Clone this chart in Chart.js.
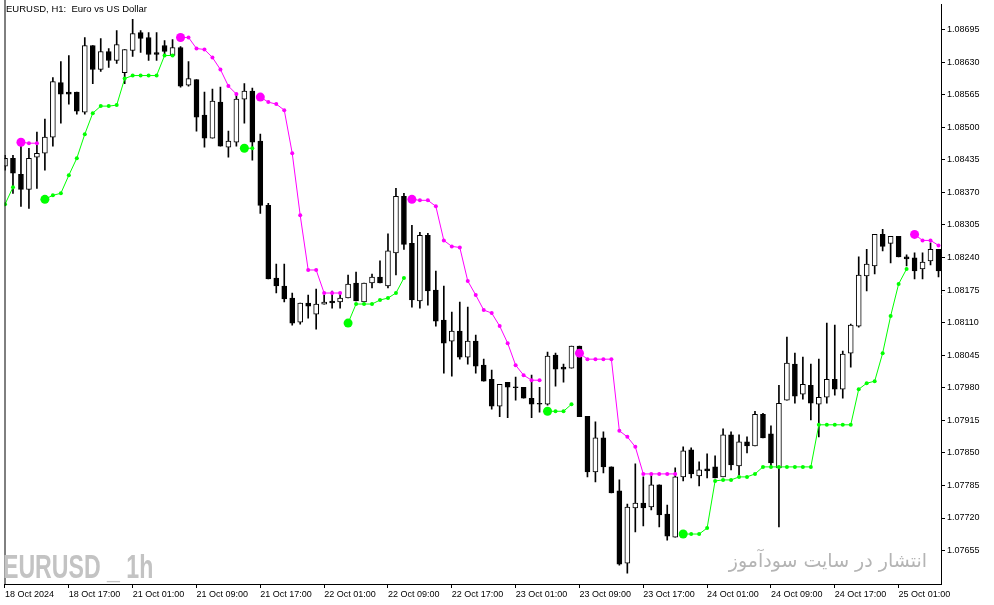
<!DOCTYPE html>
<html>
<head>
<meta charset="utf-8">
<script src="https://cdn.jsdelivr.net/npm/chart.js@4.4.1/dist/chart.umd.min.js"></script>
<style>
  html, body { margin: 0; padding: 0; background: #fff; }
  #wrap { position: relative; width: 994px; height: 605px; overflow: hidden; }
  #chart { position: absolute; left: 0; top: 0; }
  .title { position: absolute; left: 6px; top: 4px; font: 9.5px 'Liberation Sans', Arial, sans-serif; line-height: 9.5px; color: #000; white-space: pre; }
  .mark-left { position: absolute; left: 3px; top: 550px; font: bold 33.5px 'Liberation Sans', Arial, sans-serif; line-height: 33.5px; color: #c3c3c3; white-space: pre; transform: scaleX(0.69); transform-origin: 0 0; }
  .mark-right { position: absolute; right: 67px; top: 551px; font: 19px 'DejaVu Sans', sans-serif; line-height: 19px; color: #b4b4b4; white-space: pre; direction: rtl; }
</style>
</head>
<body>
<div id="wrap">
  <canvas id="chart" width="994" height="605"></canvas>
  <div class="title">EURUSD, H1:  Euro vs US Dollar</div>
  <div class="mark-left">EURUSD _ 1h</div>
  <div class="mark-right">انتشار در سایت سودآموز</div>
</div>
<script>
// H1 bars, 18 Oct 09:00 .. 25 Oct 06:00
const open = [
  1.08422, 1.08438, 1.08406, 1.08376, 1.08440, 1.08448, 1.08480, 1.08589, 1.08570, 1.08570,
  1.08530, 1.08663, 1.08615, 1.08651, 1.08633, 1.08609, 1.08653, 1.08689, 1.08679, 1.08649,
  1.08663, 1.08643, 1.08659, 1.08584, 1.08595, 1.08524, 1.08478, 1.08550, 1.08460, 1.08470,
  1.08556, 1.08572, 1.08472, 1.08344, 1.08199, 1.08183, 1.08159, 1.08111, 1.08149, 1.08127,
  1.08147, 1.08153, 1.08151, 1.08159, 1.08189, 1.08151, 1.08189, 1.08201, 1.08183, 1.08249,
  1.08362, 1.08268, 1.08153, 1.08284, 1.08175, 1.08115, 1.08073, 1.08093, 1.08041, 1.08073,
  1.08025, 1.07997, 1.07943, 1.07991, 1.07981, 1.07981, 1.07959, 1.07949, 1.07947, 1.08045,
  1.08021, 1.08019, 1.08063, 1.07923, 1.07812, 1.07880, 1.07822, 1.07774, 1.07630, 1.07740,
  1.07750, 1.07742, 1.07786, 1.07728, 1.07682, 1.07802, 1.07856, 1.07804, 1.07818, 1.07822,
  1.07802, 1.07886, 1.07824, 1.07872, 1.07864, 1.07927, 1.07888, 1.07820, 1.07955, 1.08027,
  1.07967, 1.07985, 1.07947, 1.07961, 1.07997, 1.07977, 1.08049, 1.08103, 1.08203, 1.08223,
  1.08286, 1.08268, 1.08282, 1.08241, 1.08239, 1.08217, 1.08233, 1.08256
];
const high = [
  1.08444, 1.08444, 1.08468, 1.08458, 1.08490, 1.08516, 1.08599, 1.08631, 1.08643, 1.08570,
  1.08679, 1.08663, 1.08677, 1.08657, 1.08693, 1.08655, 1.08715, 1.08693, 1.08689, 1.08689,
  1.08673, 1.08675, 1.08661, 1.08631, 1.08595, 1.08570, 1.08576, 1.08580, 1.08492, 1.08564,
  1.08587, 1.08578, 1.08486, 1.08348, 1.08227, 1.08227, 1.08169, 1.08149, 1.08165, 1.08177,
  1.08165, 1.08173, 1.08169, 1.08205, 1.08211, 1.08189, 1.08207, 1.08233, 1.08287, 1.08378,
  1.08368, 1.08304, 1.08290, 1.08288, 1.08213, 1.08183, 1.08131, 1.08151, 1.08141, 1.08085,
  1.08037, 1.08015, 1.07987, 1.07991, 1.08001, 1.07981, 1.08005, 1.07981, 1.08051, 1.08049,
  1.08027, 1.08063, 1.08063, 1.07923, 1.07912, 1.07892, 1.07822, 1.07796, 1.07748, 1.07828,
  1.07802, 1.07804, 1.07786, 1.07746, 1.07820, 1.07862, 1.07860, 1.07832, 1.07848, 1.07844,
  1.07898, 1.07892, 1.07886, 1.07882, 1.07933, 1.07929, 1.07904, 1.07985, 1.08081, 1.08049,
  1.08041, 1.08027, 1.08037, 1.08109, 1.08105, 1.08053, 1.08107, 1.08241, 1.08256, 1.08286,
  1.08296, 1.08282, 1.08282, 1.08245, 1.08249, 1.08249, 1.08269, 1.08256
];
const low = [
  1.08414, 1.08368, 1.08342, 1.08338, 1.08378, 1.08414, 1.08462, 1.08508, 1.08546, 1.08526,
  1.08526, 1.08587, 1.08611, 1.08619, 1.08627, 1.08587, 1.08641, 1.08649, 1.08633, 1.08633,
  1.08641, 1.08643, 1.08580, 1.08582, 1.08492, 1.08460, 1.08478, 1.08462, 1.08440, 1.08462,
  1.08508, 1.08434, 1.08328, 1.08197, 1.08169, 1.08151, 1.08105, 1.08107, 1.08119, 1.08097,
  1.08147, 1.08139, 1.08139, 1.08159, 1.08153, 1.08151, 1.08179, 1.08189, 1.08179, 1.08205,
  1.08256, 1.08141, 1.08139, 1.08145, 1.08103, 1.08009, 1.08003, 1.08037, 1.08027, 1.08009,
  1.07993, 1.07937, 1.07922, 1.07920, 1.07955, 1.07959, 1.07920, 1.07931, 1.07945, 1.07983,
  1.07991, 1.08019, 1.07922, 1.07802, 1.07792, 1.07810, 1.07770, 1.07626, 1.07610, 1.07692,
  1.07704, 1.07736, 1.07702, 1.07676, 1.07682, 1.07794, 1.07800, 1.07784, 1.07800, 1.07800,
  1.07802, 1.07816, 1.07806, 1.07850, 1.07864, 1.07880, 1.07824, 1.07702, 1.07955, 1.07949,
  1.07957, 1.07916, 1.07882, 1.07949, 1.07965, 1.07959, 1.08021, 1.08101, 1.08173, 1.08207,
  1.08253, 1.08229, 1.08241, 1.08223, 1.08197, 1.08197, 1.08225, 1.08201
];
const close = [
  1.08438, 1.08408, 1.08376, 1.08438, 1.08448, 1.08480, 1.08591, 1.08566, 1.08566, 1.08532,
  1.08663, 1.08615, 1.08651, 1.08633, 1.08665, 1.08655, 1.08687, 1.08677, 1.08645, 1.08645,
  1.08651, 1.08659, 1.08582, 1.08597, 1.08520, 1.08478, 1.08552, 1.08462, 1.08472, 1.08556,
  1.08572, 1.08470, 1.08344, 1.08197, 1.08183, 1.08157, 1.08109, 1.08149, 1.08143, 1.08147,
  1.08151, 1.08149, 1.08159, 1.08187, 1.08153, 1.08189, 1.08201, 1.08189, 1.08253, 1.08362,
  1.08266, 1.08155, 1.08284, 1.08173, 1.08113, 1.08069, 1.08093, 1.08041, 1.08073, 1.08023,
  1.07993, 1.07943, 1.07987, 1.07981, 1.07980, 1.07959, 1.07947, 1.07947, 1.08043, 1.08017,
  1.08017, 1.08063, 1.07922, 1.07812, 1.07880, 1.07822, 1.07770, 1.07628, 1.07742, 1.07750,
  1.07740, 1.07786, 1.07726, 1.07684, 1.07802, 1.07854, 1.07808, 1.07816, 1.07814, 1.07800,
  1.07886, 1.07826, 1.07872, 1.07864, 1.07927, 1.07880, 1.07830, 1.07949, 1.08029, 1.07963,
  1.07987, 1.07949, 1.07961, 1.07997, 1.07977, 1.08047, 1.08105, 1.08205, 1.08227, 1.08286,
  1.08262, 1.08282, 1.08241, 1.08237, 1.08213, 1.08231, 1.08256, 1.08213
];

// trailing stop indicator: green = up trend, magenta = down trend
const upStop = [
  1.08346, 1.08380, null, null, null, 1.08356, 1.08364, 1.08368, 1.08404, 1.08438,
  1.08486, 1.08528, 1.08542, 1.08542, 1.08544, 1.08597, 1.08603, 1.08603, 1.08603, 1.08603,
  1.08643, 1.08643, null, null, null, null, null, null, null, null,
  1.08458, 1.08458, null, null, null, null, null, null, null, null,
  null, null, null, 1.08109, 1.08147, 1.08147, 1.08147, 1.08155, 1.08159, 1.08169,
  1.08199, null, null, null, null, null, null, null, null, null,
  null, null, null, null, null, null, null, null, 1.07933, 1.07933,
  1.07933, 1.07947, null, null, null, null, null, null, null, null,
  null, null, null, null, null, 1.07688, 1.07688, 1.07688, 1.07700, 1.07794,
  1.07796, 1.07796, 1.07802, 1.07802, 1.07808, 1.07822, 1.07822, 1.07822, 1.07822, 1.07822,
  1.07822, 1.07822, 1.07906, 1.07906, 1.07906, 1.07906, 1.07906, 1.07977, 1.07989, 1.07993,
  1.08049, 1.08123, 1.08187, 1.08217, null, null, null, null
];
const downStop = [
  null, null, 1.08470, 1.08468, 1.08468, null, null, null, null, null,
  null, null, null, null, null, null, null, null, null, null,
  null, null, 1.08679, 1.08679, 1.08657, 1.08655, 1.08639, 1.08615, 1.08582, 1.08566,
  null, null, 1.08560, 1.08550, 1.08546, 1.08534, 1.08448, 1.08324, 1.08215, 1.08215,
  1.08169, 1.08169, 1.08169, null, null, null, null, null, null, null,
  null, 1.08356, 1.08354, 1.08354, 1.08342, 1.08274, 1.08262, 1.08260, 1.08193, 1.08165,
  1.08135, 1.08129, 1.08103, 1.08069, 1.08025, 1.08005, 1.07995, 1.07995, null, null,
  null, null, 1.08049, 1.08037, 1.08037, 1.08037, 1.08037, 1.07894, 1.07882, 1.07862,
  1.07808, 1.07808, 1.07808, 1.07808, 1.07808, null, null, null, null, null,
  null, null, null, null, null, null, null, null, null, null,
  null, null, null, null, null, null, null, null, null, null,
  null, null, null, null, 1.08286, 1.08274, 1.08274, 1.08264
];

const priceTicks = [
  1.08695, 1.08630, 1.08565, 1.08500, 1.08435, 1.08370, 1.08305, 1.08240, 1.08175,
  1.08110, 1.08045, 1.07980, 1.07915, 1.07850, 1.07785, 1.07720, 1.07655
];
const timeLabels = [
  '18 Oct 2024', '18 Oct 17:00', '21 Oct 01:00', '21 Oct 09:00', '21 Oct 17:00',
  '22 Oct 01:00', '22 Oct 09:00', '22 Oct 17:00', '23 Oct 01:00', '23 Oct 09:00',
  '23 Oct 17:00', '24 Oct 01:00', '24 Oct 09:00', '24 Oct 17:00', '25 Oct 01:00'
];
const timeLabelBars = [0, 8, 16, 24, 32, 40, 48, 56, 64, 72, 80, 88, 96, 104, 112];

const axisFont = { family: "'Liberation Sans', Arial, sans-serif", size: 9 };

// big dot where a new trend segment starts
function dotSize(ctx) {
  const i = ctx.dataIndex;
  const d = ctx.dataset.data;
  return i > 0 && d[i - 1].y === null ? 4.5 : 2;
}

function stopDataset(values, color) {
  return {
    type: 'line',
    data: values.map((v, i) => ({ x: i, y: v })),
    borderColor: color,
    borderWidth: 1,
    pointBackgroundColor: color,
    pointBorderColor: color,
    pointBorderWidth: 0,
    pointRadius: dotSize,
    spanGaps: false,
    tension: 0,
    order: 0,
  };
}

// left edge of the chart window frame
const framePlugin = {
  id: 'frame',
  afterDraw(chart) {
    const { ctx, chartArea } = chart;
    ctx.save();
    ctx.strokeStyle = '#000';
    ctx.lineWidth = 1;
    ctx.beginPath();
    ctx.moveTo(chartArea.left + 0.5, 0);
    ctx.lineTo(chartArea.left + 0.5, chartArea.bottom);
    ctx.stroke();
    ctx.restore();
  }
};

new Chart(document.getElementById('chart'), {
  type: 'bar',
  data: {
    datasets: [
      stopDataset(upStop, '#00ff00'),
      stopDataset(downStop, '#ff00ff'),
      {
        type: 'bar',
        data: open.map((o, i) => ({ x: i, y: [o, close[i]] })),
        backgroundColor: (ctx) => close[ctx.dataIndex] > open[ctx.dataIndex] ? '#ffffff' : '#000000',
        borderColor: '#000',
        borderWidth: 1,
        borderSkipped: false,
        barThickness: 5,
        minBarLength: 1,
        grouped: false,
        order: 1,
      },
      {
        type: 'bar',
        data: low.map((l, i) => ({ x: i, y: [l, high[i]] })),
        backgroundColor: '#000',
        borderWidth: 0,
        barThickness: 1,
        grouped: false,
        order: 2,
      }
    ]
  },
  options: {
    responsive: false,
    animation: false,
    events: [],
    layout: { padding: { left: 2, top: 0, right: 0, bottom: 0 } },
    plugins: { legend: { display: false }, tooltip: { enabled: false } },
    scales: {
      x: {
        type: 'linear',
        min: -0.0625,
        max: 117.3125,
        offset: false,
        afterBuildTicks: (scale) => { scale.ticks = timeLabelBars.map(v => ({ value: v })); },
        afterFit: (scale) => { scale.height = 21; scale.paddingLeft = 0; scale.paddingRight = 0; },
        grid: { offset: false, drawOnChartArea: false, drawTicks: true, tickLength: 4, color: '#000' },
        border: { display: true, color: '#000' },
        ticks: {
          autoSkip: false,
          maxRotation: 0,
          align: 'start',
          labelOffset: 0,
          padding: 1,
          color: '#000',
          font: axisFont,
          callback: (v, i) => timeLabels[i],
        },
      },
      y: {
        type: 'linear',
        position: 'right',
        min: 1.075883,
        max: 1.087448,
        beginAtZero: false,
        afterBuildTicks: (scale) => { scale.ticks = priceTicks.map(v => ({ value: v })); },
        afterFit: (scale) => { scale.width = 53; scale.paddingTop = 0; scale.paddingBottom = 0; },
        grid: { drawOnChartArea: false, drawTicks: true, tickLength: 4, color: '#000' },
        border: { display: true, color: '#000' },
        ticks: {
          autoSkip: false,
          padding: 2,
          color: '#000',
          font: axisFont,
          callback: (v) => v.toFixed(5),
        },
      }
    }
  },
  plugins: [framePlugin]
});
</script>
</body>
</html>
